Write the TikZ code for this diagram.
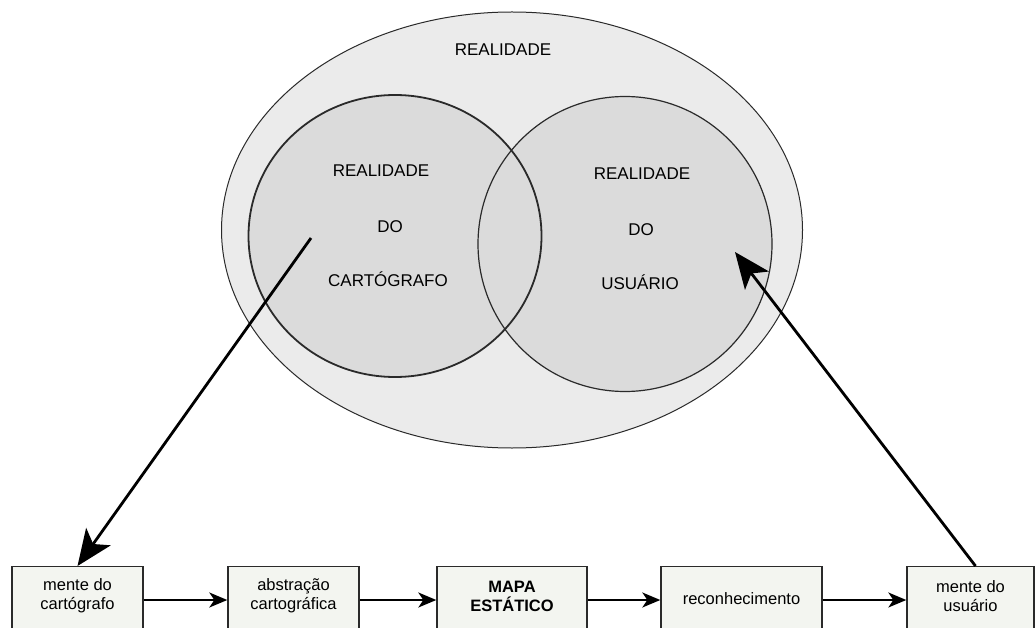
\documentclass[tikz,border=0pt]{standalone}
\usepackage{fontspec}
\setmainfont{Liberation Sans}
\usetikzlibrary{arrows.meta,shapes.geometric}
\definecolor{outerfill}{HTML}{EBEBEB}
\definecolor{circfill}{HTML}{DBDBDB}
\definecolor{boxfill}{HTML}{F3F5F0}
\definecolor{edge}{HTML}{2A2A2A}
\tikzset{
  caps/.style={font=\fontsize{17}{20}\selectfont, inner sep=1pt},
  boxframe/.style={draw=edge, line width=1.4pt, fill=boxfill, minimum height=80pt, anchor=north, inner sep=0pt},
  boxtext/.style={font=\fontsize{16.5}{19}\selectfont, align=center, inner sep=0pt},
  smallarrow/.style={draw=black, line width=1.8pt, -{Stealth[length=18pt,width=15pt,inset=5pt]}},
  bigarrow/.style={draw=black, line width=2.8pt, -{Stealth[length=36pt,width=30pt,inset=9pt]}}
}
\begin{document}
\begin{tikzpicture}[x=1pt,y=-1pt]
\path[use as bounding box] (0,0) rectangle (1035,628);
\clip (0,0) rectangle (1035,628);
% outer ellipse
\node[ellipse, draw=edge, line width=1pt, fill=outerfill, minimum width=581pt, minimum height=436pt, inner sep=0pt] (outer) at (512,230) {};
% circles
\node[ellipse, fill=circfill, minimum width=293pt, minimum height=282pt, inner sep=0pt] (cl) at (395,236) {};
\node[ellipse, fill=circfill, minimum width=294pt, minimum height=295pt, inner sep=0pt] (cr) at (625,244) {};
\node[ellipse, draw=edge, line width=1.8pt, minimum width=293pt, minimum height=282pt, inner sep=0pt] (clb) at (395,236) {};
\node[ellipse, draw=edge, line width=1.2pt, minimum width=294pt, minimum height=295pt, inner sep=0pt] (crb) at (625,244) {};
% texts
\node[caps] (tr) at (503,50) {REALIDADE};
\node[caps] (l1) at (381,171) {REALIDADE};
\node[caps] (l2) at (390,227) {DO};
\node[caps] (l3) at (388,279) {CARTÓGRAFO};
\node[caps] (r1) at (642,174) {REALIDADE};
\node[caps] (r2) at (641,230) {DO};
\node[caps] (r3) at (640,282) {USUÁRIO};
% boxes
\node[boxframe, minimum width=131pt] (b1) at (77.5,566) {};
\node[boxframe, minimum width=131pt] (b2) at (293.5,566) {};
\node[boxframe, minimum width=150pt] (b3) at (512,566) {};
\node[boxframe, minimum width=161pt] (b4) at (741.5,566) {};
\node[boxframe, minimum width=127pt] (b5) at (970.5,566) {};
\node[boxtext] (t1) at (77.5,596) {mente do\\cartógrafo};
\node[boxtext] (t2) at (293.5,596) {abstração\\cartográfica};
\node[boxtext, font=\fontsize{16.5}{19}\selectfont\bfseries] (t3) at (512,596) {MAPA\\ESTÁTICO};
\node[boxtext] (t4) at (741.5,599) {reconhecimento};
\node[boxtext] (t5) at (970.5,596) {mente do\\usuário};
% small arrows
\coordinate (ay) at (0,600);
\draw[smallarrow] (ay -| b1.east) -- (ay -| b2.west);
\draw[smallarrow] (ay -| b2.east) -- (ay -| b3.west);
\draw[smallarrow] (ay -| b3.east) -- (ay -| b4.west);
\draw[smallarrow] (ay -| b4.east) -- (ay -| b5.west);
% big arrows
\coordinate (p1) at (311,238);
\coordinate (p2) at (735,252);
\draw[bigarrow] (p1) -- (b1.north);
\draw[bigarrow] ([xshift=5pt]b5.north) -- (p2);
\end{tikzpicture}
\end{document}
